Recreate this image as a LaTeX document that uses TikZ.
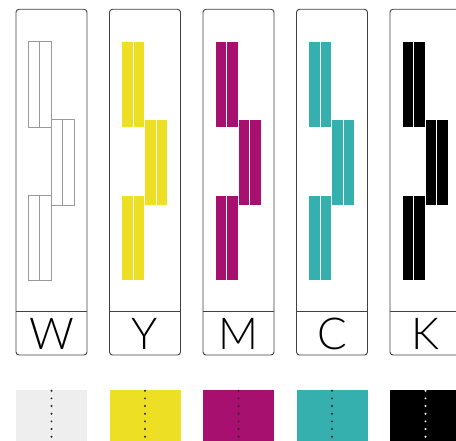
\documentclass[tikz,border=0pt]{standalone}
\usepackage{fontspec}
\usepackage{xcolor}
\usepackage{tikz}
\newfontfamily\labelfont{Lato Light}

\definecolor{inkW}{HTML}{EDEEED}
\definecolor{inkY}{HTML}{EDE024}
\definecolor{inkM}{HTML}{A8106F}
\definecolor{inkC}{HTML}{35B0AF}
\definecolor{inkK}{HTML}{000000}

\tikzset{
  cardbox/.style={draw=black!75, line width=0.9pt},
  inkbar/.style={line width=0.6pt},
}

\begin{document}
\begin{tikzpicture}[x=1pt, y=-1pt]
    \useasboundingbox (0,0) rectangle (456,441);
    % Cartucce
    \foreach \lbl/\col/\barfill/\edge/\dotcol [count=\i from 0] in {W/inkW/white/black!40/black!85, Y/inkY/inkY/white/black!85, M/inkM/inkM/white/black!85, C/inkC/inkC/white/black!85, K/inkK/inkK/white/white} {
        \pgfmathsetmacro\L{16+93.5*\i}
        \draw[cardbox, rounded corners=3pt] (\L,9.3) rectangle ++(71,345.7);
        \draw[cardbox] (\L,311.7) -- ++(71,0);
        \node[font=\labelfont\fontsize{44}{44}\selectfont, inner sep=0pt] (lbl\lbl) at (\L+35.5,333.8) {\lbl};
        % Barre
        \foreach \bx/\by in {12/41.7, 35/119.3, 12/195} {
            \draw[inkbar, fill=\barfill, draw=\edge] (\L+\bx,\by) rectangle ++(11.5,85.7);
            \draw[inkbar, fill=\barfill, draw=\edge] (\L+\bx+11.5,\by) rectangle ++(11.5,85.7);
        }
        % Campioni
        \fill[\col] (\L,390) rectangle ++(71,51);
        \foreach \k in {0,...,6}
            \fill[\dotcol] (\L+35.5,390.7+7.67*\k) circle (1.1);
    }
\end{tikzpicture}
\end{document}
